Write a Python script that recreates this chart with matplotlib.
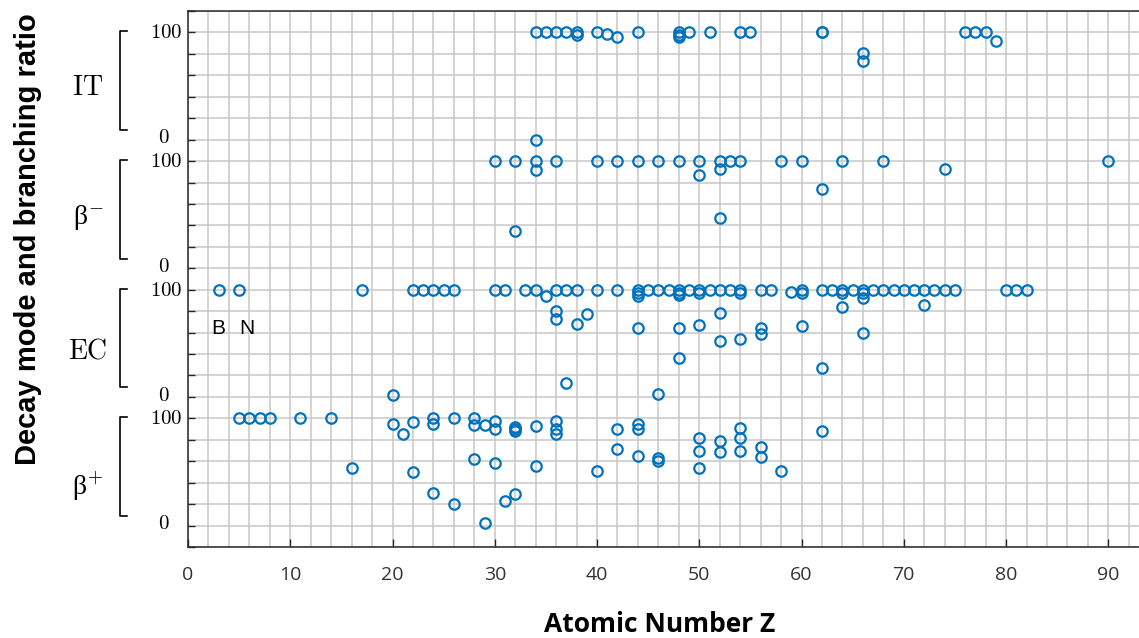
import matplotlib.pyplot as plt
import matplotlib.transforms as mtransforms

plt.rcParams['mathtext.fontset'] = 'cm'

# atomic number Z and branching ratio (%) for each decay mode
it_z = [34, 34, 35, 36, 37, 38, 38, 40, 41, 42, 44, 48, 48, 48, 49, 51, 54, 55,
        62, 62, 66, 66, 76, 77, 78, 79]
it_ratio = [0, 100, 100, 100, 100, 100, 98, 100, 99, 96, 100, 100, 98, 96, 100, 100,
            100, 100, 100, 100, 81, 73, 100, 100, 100, 92]

bm_z = [30, 32, 32, 34, 34, 36, 40, 42, 44, 46, 48, 50, 50, 52, 52, 52, 53, 54,
        58, 60, 62, 64, 68, 74, 90]
bm_ratio = [100, 100, 35, 100, 92, 100, 100, 100, 100, 100, 100, 100, 87, 100, 93, 47,
            100, 100, 100, 100, 74, 100, 100, 93, 100]

ec_z = [3, 5, 17, 20, 22, 23, 24, 25, 26, 30, 31, 33, 34, 35, 36, 36, 36, 37, 37,
        38, 38, 39, 40, 42, 44, 44, 44, 44, 45, 46, 46, 47, 48, 48, 48, 48, 48, 49,
        50, 50, 50, 51, 52, 52, 52, 53, 54, 54, 54, 56, 56, 56, 57, 59, 60, 60, 60,
        62, 62, 63, 64, 64, 64, 65, 66, 66, 66, 66, 67, 68, 69, 70, 71, 72, 72, 73,
        74, 75, 80, 81, 82]
ec_ratio = [100, 100, 100, 2, 100, 100, 100, 100, 100, 100, 100, 100, 100, 94, 100, 80,
            73, 100, 13, 100, 68, 77, 100, 100, 100, 97, 94, 64, 100, 100, 3, 100, 100,
            97, 95, 64, 36, 100, 100, 97, 67, 100, 100, 78, 52, 100, 100, 97, 54, 100,
            64, 59, 100, 98, 100, 97, 66, 100, 27, 100, 100, 97, 84, 100, 100, 97, 92,
            60, 100, 100, 100, 100, 100, 100, 86, 100, 100, 100, 100, 100, 100]

bp_z = [5, 6, 7, 8, 11, 14, 16, 20, 21, 22, 22, 24, 24, 24, 26, 26, 28, 28, 28, 29,
        29, 30, 30, 30, 31, 32, 32, 32, 32, 34, 34, 36, 36, 36, 40, 42, 42, 44, 44, 44,
        46, 46, 50, 50, 50, 52, 52, 54, 54, 54, 56, 56, 58, 62]
bp_ratio = [100, 100, 100, 100, 100, 100, 54, 95, 85, 97, 50, 100, 95, 30, 100, 20,
            100, 94, 62, 94, 2, 98, 90, 58, 23, 92, 90, 88, 29, 93, 56, 98, 90, 85, 51,
            90, 71, 95, 90, 65, 63, 60, 82, 70, 54, 79, 69, 91, 82, 70, 73, 64, 51, 88]

modes = [(r'$\mathrm{IT}$', 360, 48, it_z, it_ratio),
         (r'β$^{-}$', 240, 47, bm_z, bm_ratio),
         (r'$\mathrm{EC}$', 120, 42, ec_z, ec_ratio),
         (r'β$^{+}$', 0, 37, bp_z, bp_ratio)]

W, H = 1139, 638
fig = plt.figure(figsize=(W / 100, H / 100), dpi=100)
ax = fig.add_axes([188 / W, 91 / H, 951 / W, 536 / H])

for name, off, ly, z, r in modes:
    ax.plot(z, [v + off for v in r], 'o', mfc='none', mec='#0072BD', ms=7.5, mew=1.6)

ax.set_xlim(0, 93)
ax.set_ylim(-20, 480)
ax.set_xticks(range(0, 91, 10))
ax.set_xticks(range(0, 93, 2), minor=True)
ax.set_yticks(range(-20, 481, 20))
ax.set_yticklabels([])
ax.grid(which='both', color='#c8c8c8', lw=1.1)
ax.set_axisbelow(True)
ax.tick_params(axis='x', which='major', direction='in', length=6, width=1,
               color='#262626', labelsize=14, pad=14, labelcolor='#333333')
ax.tick_params(axis='x', which='minor', length=0)
ax.tick_params(axis='y', direction='in', length=5, width=1, color='#262626')
for lab in ax.get_xticklabels():
    lab.set_family('Open Sans')
ax.spines['right'].set_visible(False)
for s in ['left', 'top', 'bottom']:
    ax.spines[s].set_color('#262626')
    ax.spines[s].set_linewidth(1.1)

# band labels and brackets to the left of the axes
trans = mtransforms.blended_transform_factory(fig.transFigure, ax.transData)
for name, off, ly, z, r in modes:
    ax.plot([127 / W, 120 / W, 120 / W, 127 / W], [off + 101, off + 101, off + 9, off + 9],
            transform=trans, color='black', lw=1.2, clip_on=False)
    ax.text(88 / W, off + ly, name, transform=trans, ha='center', va='center',
            fontsize=20, family='Liberation Serif')
    ax.text(182 / W, off + 100, r'$100$', transform=trans, ha='right', va='center',
            fontsize=15)
    ax.text(170 / W, off + 2, r'$0$', transform=trans, ha='right', va='center',
            fontsize=15)

ax.text(3, 184, 'B', ha='center', va='center', fontsize=15, family='Liberation Sans')
ax.text(5.8, 184, 'N', ha='center', va='center', fontsize=15, family='Liberation Sans')

fig.text(28 / W, 1 - 239 / H, 'Decay mode and branching ratio', rotation=90,
         ha='center', va='center', fontsize=21, fontweight='bold', family='Liberation Sans')
fig.text(660 / W, 1 - 625 / H, 'Atomic Number Z', ha='center', va='center',
         fontsize=19, fontweight='bold', family='Open Sans')

fig.savefig('out.png', dpi=100)
